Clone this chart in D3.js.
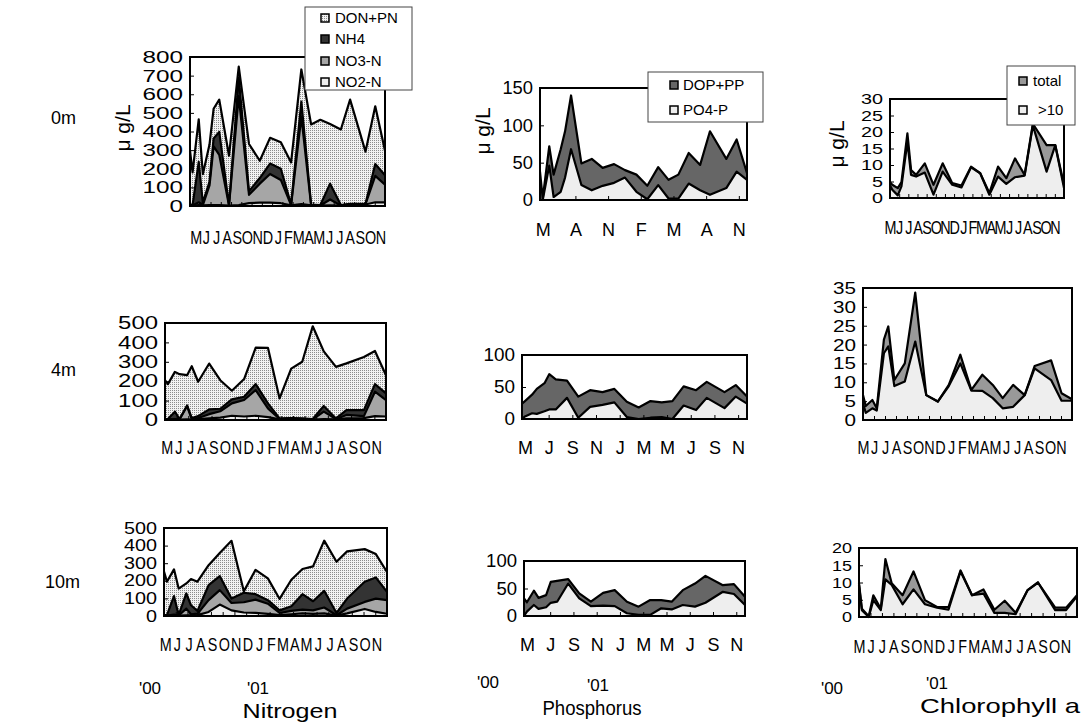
<!DOCTYPE html>
<html>
<head>
<meta charset="utf-8">
<script src="https://cdn.jsdelivr.net/npm/d3@7"></script>
<style>
    body { margin: 0; background: #fff; }
    svg { display: block; }
</style>
</head>
<body>
<script>
'use strict';

// sampling dates, in months after the start of May 2000
var sampleMonths = [0, 0.25, 0.85, 1.25, 1.9, 2.3, 2.85, 3.8, 4.75, 5.75, 6.8, 7.8, 8.85, 9.85, 10.85, 11.8, 12.7, 13.65, 14.7, 15.6, 17.1, 18.05, 19];
var monthLetters = ['M', 'J', 'J', 'A', 'S', 'O', 'N', 'D', 'J', 'F', 'M', 'A', 'M', 'J', 'J', 'A', 'S', 'O', 'N'];
var depthLabels = ['0m', '4m', '10m'];

var nitrogenKeys = ['NO2-N', 'NO3-N', 'NH4', 'DON+PN'];
var phosphorusKeys = ['PO4-P', 'DOP+PP'];
var chlorophyllKeys = ['total', '>10'];

// nitrogen, ug/L
var no2_0m = [3, 2, 5, 3, 5, 5, 5, 2, 5, 15, 18, 18, 15, 3, 10, 3, 2, 3, 2, 8, 8, 20, 20];
var no3_0m = [2, 1, 15, 2, 105, 315, 270, 1, 585, 45, 102, 154, 125, 2, 470, 2, 1, 32, 1, 2, 2, 142, 95];
var nh4_0m = [3, 2, 217, 13, 20, 42, 123, 2, 100, 20, 30, 56, 60, 3, 80, 3, 2, 85, 2, 2, 2, 63, 50];
var don_0m = [289, 175, 228, 153, 200, 160, 173, 265, 58, 253, 93, 138, 142, 226, 173, 430, 458, 320, 406, 559, 280, 310, 132];

var no2_4m = [2, 2, 2, 2, 3, 2, 5, 8, 12, 22, 18, 22, 15, 3, 5, 5, 2, 5, 3, 8, 10, 20, 18];
var no3_4m = [1, 1, 3, 1, 69, 3, 5, 22, 33, 64, 85, 132, 45, 2, 3, 1, 1, 38, 2, 18, 10, 126, 85];
var nh4_4m = [2, 2, 38, 2, 3, 5, 10, 25, 13, 20, 17, 31, 26, 3, 2, 2, 2, 29, 3, 25, 31, 39, 34];
var don_4m = [200, 180, 205, 231, 156, 267, 177, 236, 147, 45, 91, 188, 286, 103, 255, 292, 478, 282, 266, 241, 274, 171, 94];

var no2_10m = [2, 2, 3, 2, 3, 3, 5, 23, 65, 32, 20, 18, 12, 5, 10, 15, 12, 15, 2, 15, 40, 23, 13];
var no3_10m = [1, 1, 5, 1, 39, 7, 8, 67, 82, 42, 58, 75, 58, 12, 19, 21, 20, 33, 2, 27, 40, 76, 77];
var nh4_10m = [2, 2, 105, 2, 86, 51, 16, 85, 80, 25, 54, 31, 20, 15, 26, 88, 52, 95, 13, 57, 115, 120, 47];
var don_10m = [247, 190, 152, 151, 57, 149, 166, 114, 131, 328, 8, 138, 124, 65, 151, 143, 198, 285, 291, 268, 185, 133, 113];

// phosphorus, ug/L
var po4_0m = [0, 0, 46, 4, 11, 30, 68, 20, 13, 19, 23, 30, 11, 1, 20, 2, 2, 22, 13, 7, 16, 38, 27];
var dop_0m = [38, 2, 26, 30, 57, 62, 72, 29, 42, 24, 25, 10, 23, 18, 24, 25, 32, 41, 34, 85, 39, 43, 9];
var po4_4m = [0, 4, 9, 8, 12, 15, 15, 33, 2, 19, 22, 26, 3, 0, 2, 3, 0, 21, 14, 33, 17, 35, 24];
var dop_4m = [24, 24, 29, 39, 44, 55, 47, 27, 33, 26, 20, 21, 24, 18, 26, 23, 28, 30, 31, 25, 25, 18, 11];
var po4_10m = [0, 8, 20, 13, 16, 24, 26, 59, 32, 18, 19, 18, 5, 2, 2, 14, 12, 20, 17, 24, 44, 40, 20];
var dop_10m = [32, 17, 26, 20, 22, 38, 38, 8, 9, 8, 23, 29, 21, 15, 27, 15, 14, 27, 42, 49, 12, 18, 15];

// chlorophyll a, ug/L (total and the >10 um fraction, not stacked)
var chlTotal_0m = [4.9, 4.0, 3.0, 4.8, 19.6, 8.5, 7.0, 10.5, 4.0, 10.5, 4.5, 3.8, 9.5, 7.5, 1.5, 9.5, 6.0, 12.0, 7.0, 22.5, 16.0, 16.0, 4.0];
var chlLarge_0m = [3.9, 2.5, 0.8, 3.5, 17.0, 7.0, 6.5, 7.7, 1.0, 8.0, 4.0, 3.2, 9.3, 7.5, 1.0, 6.5, 4.3, 6.3, 6.8, 22.0, 8.0, 16.0, 3.0];
var chlTotal_4m = [6.6, 3.7, 5.3, 3.1, 21.3, 24.8, 10.6, 15, 33.8, 6.6, 4.9, 9.3, 17.3, 8, 12, 9.3, 5.8, 9.3, 6.6, 14.3, 15.8, 7.1, 5.5];
var chlLarge_4m = [4.4, 1.9, 3.1, 2.5, 17.7, 19.5, 9, 10.2, 20.8, 6.6, 4.9, 9, 15, 7.8, 7.7, 5.8, 3.1, 3.5, 6.6, 13.7, 10.6, 5.1, 5.1];
var chlTotal_10m = [9.8, 2.4, 0.2, 6.3, 2.4, 16.8, 9.8, 6.3, 13.2, 4.9, 2.9, 2.9, 13.5, 6.3, 8, 2.1, 4.7, 1.2, 7.8, 10, 2.7, 2.7, 6.3];
var chlLarge_10m = [9.3, 2, 0, 4.9, 2, 10.9, 9.3, 3.7, 8, 3.7, 2.7, 2.1, 13.2, 6.3, 6.8, 1.2, 1.2, 0.8, 7.8, 10, 2, 2, 6];

var FONT = '"Liberation Sans", Arial, sans-serif';

var fills = {
    'NO2-N': '#eeeeee', 'NO3-N': '#a6a6a6', 'NH4': '#333333', 'DON+PN': 'url(#dots)',
    'PO4-P': '#eeeeee', 'DOP+PP': '#666666',
    'total': '#999999', '>10': '#eeeeee'
};

var panels = [
    {kind: 'n', left: 190, right: 385, top: 57, bottom: 206, ymax: 800, step: 100, digitW: 13.5, tickFont: 17, labelShift: 0.55, labelPad: 25,
        values: [no2_0m, no3_0m, nh4_0m, don_0m]},
    {kind: 'p', left: 540, right: 747, top: 88, bottom: 200, ymax: 150, step: 50, digitW: 10.2, tickFont: 18, every: 3, labelPad: 23,
        values: [po4_0m, dop_0m]},
    {kind: 'c', left: 890, right: 1064, top: 99, bottom: 198, ymax: 30, step: 5, digitW: 11, tickFont: 15, labelShift: 0, labelPad: 23,
        values: [chlTotal_0m, chlLarge_0m]},
    {kind: 'n', left: 165, right: 386, top: 323, bottom: 420, ymax: 500, step: 100, digitW: 13.3, tickFont: 18, labelShift: 0.15, labelPad: 21,
        values: [no2_4m, no3_4m, nh4_4m, don_4m]},
    {kind: 'p', left: 522, right: 747, top: 355, bottom: 419, ymax: 100, step: 50, digitW: 10.5, tickFont: 18, every: 2, labelPad: 22,
        values: [po4_4m, dop_4m]},
    {kind: 'c', left: 863, right: 1072, top: 288, bottom: 420, ymax: 35, step: 5, digitW: 11.5, tickFont: 17, labelShift: 0, labelPad: 21,
        values: [chlTotal_4m, chlLarge_4m]},
    {kind: 'n', left: 164, right: 387, top: 528, bottom: 616, ymax: 500, step: 100, digitW: 11, tickFont: 16, labelShift: 0.1, labelPad: 22,
        values: [no2_10m, no3_10m, nh4_10m, don_10m]},
    {kind: 'p', left: 524, right: 745, top: 561, bottom: 616, ymax: 100, step: 50, digitW: 10.3, tickFont: 18, every: 2, labelPad: 22,
        values: [po4_10m, dop_10m]},
    {kind: 'c', left: 859, right: 1077, top: 548, bottom: 617, ymax: 20, step: 5, digitW: 10, tickFont: 15, labelShift: 0, labelPad: 23,
        values: [chlTotal_10m, chlLarge_10m]}
];

var svg = d3.select('body').append('svg')
    .attr('width', 1084)
    .attr('height', 726)
    .attr('font-family', FONT);

var pattern = svg.append('defs').append('pattern')
    .attr('id', 'dots')
    .attr('width', 2)
    .attr('height', 2)
    .attr('patternUnits', 'userSpaceOnUse');
pattern.append('rect').attr('width', 2).attr('height', 2).attr('fill', '#f2f2f2');
pattern.append('rect').attr('width', 1).attr('height', 1).attr('fill', '#8c8c8c');

function buildLayers(p) {
    var keys = p.kind === 'n' ? nitrogenKeys : (p.kind === 'p' ? phosphorusKeys : chlorophyllKeys);
    var rows = sampleMonths.map(function (m, i) {
        var row = {month: m};
        keys.forEach(function (k, j) {
            row[k] = p.values[j][i];
        });
        return row;
    });

    if (p.kind === 'c') {
        // overlaid, each series starts from zero
        return keys.map(function (k) {
            var layer = rows.map(function (r) {
                var pt = [0, r[k]];
                pt.data = r;
                return pt;
            });
            layer.key = k;
            return layer;
        });
    }
    return d3.stack().keys(keys)(rows);
}

function drawPanel(p) {
    var g = svg.append('g');

    var x = d3.scaleLinear().domain([0, 19]).range([p.left, p.right]);
    var y = d3.scaleLinear().domain([0, p.ymax]).range([p.bottom, p.top]);

    var layers = buildLayers(p);

    var area = d3.area()
        .x(function (d) { return x(d.data.month); })
        .y0(function (d) { return y(d[0]); })
        .y1(function (d) { return y(d[1]); });

    var line = d3.line()
        .x(function (d) { return x(d.data.month); })
        .y(function (d) { return y(d[1]); });

    g.selectAll('.area')
        .data(layers)
        .enter()
        .append('path')
        .attr('d', area)
        .attr('fill', function (d) { return fills[d.key]; });

    g.selectAll('.edge')
        .data(layers)
        .enter()
        .append('path')
        .attr('d', line)
        .attr('fill', 'none')
        .attr('stroke', '#000')
        .attr('stroke-width', 2.2)
        .attr('stroke-linejoin', 'round');

    // left axis, ticks pointing inwards
    var yAxis = g.append('g')
        .attr('transform', 'translate(' + p.left + ',0)')
        .call(d3.axisLeft(y)
            .tickValues(d3.range(0, p.ymax + 0.001, p.step))
            .tickSizeInner(-4)
            .tickSizeOuter(0)
            .tickPadding(7));
    yAxis.select('.domain').remove();
    yAxis.attr('font-size', p.tickFont).attr('font-family', FONT);
    yAxis.selectAll('.tick text')
        .attr('fill', '#000')
        .attr('textLength', function (d) { return String(d).length * p.digitW; })
        .attr('lengthAdjust', 'spacingAndGlyphs');

    // bottom tick marks and month letters
    var tickMonths, labelMonths, shift, squeeze;
    if (p.kind === 'p') {
        labelMonths = d3.range(0, 19, p.every);
        shift = 0.25;
        tickMonths = labelMonths.slice(1).map(function (m) { return m + shift; });
        squeeze = 1;
    } else {
        labelMonths = d3.range(0, 19);
        shift = p.labelShift;
        tickMonths = d3.range(1, 19);
        squeeze = 0.8;
    }

    var tickAxis = g.append('g')
        .attr('transform', 'translate(0,' + p.bottom + ')')
        .call(d3.axisBottom(x)
            .tickValues(tickMonths)
            .tickSizeInner(-4)
            .tickSizeOuter(0)
            .tickFormat(''));
    tickAxis.select('.domain').remove();

    var labelAxis = g.append('g')
        .attr('transform', 'translate(0,' + p.bottom + ')')
        .call(d3.axisBottom(x)
            .tickValues(labelMonths.map(function (m) { return m + shift; }))
            .tickSize(0)
            .tickPadding(p.labelPad)
            .tickFormat(function (d, i) { return monthLetters[labelMonths[i]]; }));
    labelAxis.select('.domain').remove();
    labelAxis.attr('font-size', 18).attr('font-family', FONT);
    labelAxis.selectAll('.tick text')
        .attr('fill', '#000')
        .attr('transform', 'scale(' + squeeze + ',1)');

    // plot frame
    g.append('rect')
        .attr('x', p.left)
        .attr('y', p.top)
        .attr('width', p.right - p.left)
        .attr('height', p.bottom - p.top)
        .attr('fill', 'none')
        .attr('stroke', '#000')
        .attr('stroke-width', 2);
}

panels.forEach(drawPanel);

// legends
function drawLegend(box, keys, rowsY, swatchX, textX) {
    var g = svg.append('g');
    g.append('rect')
        .attr('x', box[0]).attr('y', box[1])
        .attr('width', box[2]).attr('height', box[3])
        .attr('fill', '#fff')
        .attr('stroke', '#444')
        .attr('stroke-width', 1);

    var item = g.selectAll('.item')
        .data(keys)
        .enter()
        .append('g')
        .attr('transform', function (d, i) { return 'translate(0,' + rowsY[i] + ')'; });

    item.append('rect')
        .attr('x', swatchX)
        .attr('y', -4)
        .attr('width', 8)
        .attr('height', 8)
        .attr('fill', function (d) { return fills[d]; })
        .attr('stroke', '#000')
        .attr('stroke-width', 1.5);

    item.append('text')
        .attr('x', function (d, i) { return textX[i]; })
        .attr('y', 0)
        .attr('dy', '0.36em')
        .attr('font-size', 15)
        .text(function (d) { return d; });
}

drawLegend([305, 7, 107, 83], nitrogenKeys.slice().reverse(), [18, 39, 61, 82], 321, [335, 335, 335, 335]);
drawLegend([648, 72, 115, 50], phosphorusKeys.slice().reverse(), [85, 110], 670, [683, 683]);
drawLegend([1007, 66, 68, 59], chlorophyllKeys, [81, 110], 1019, [1033, 1038]);

// row labels
svg.selectAll('.depth')
    .data(depthLabels)
    .enter()
    .append('text')
    .attr('x', function (d) { return d === '10m' ? 45 : 51; })
    .attr('y', function (d, i) { return [118, 370, 582][i]; })
    .attr('dy', '0.35em')
    .attr('font-size', 18)
    .text(function (d) { return d; });

// y axis titles on the top row
[[123, 128], [483, 131], [837, 144]].forEach(function (pos) {
    svg.append('text')
        .attr('transform', 'translate(' + pos[0] + ',' + pos[1] + ') rotate(-90)')
        .attr('text-anchor', 'middle')
        .attr('dy', '0.35em')
        .attr('font-size', 21)
        .text('\u03bc g/L');
});

// years and element names under each column
var yearMarks = [
    {t: "'00", x: 150, y: 688}, {t: "'01", x: 258, y: 688},
    {t: "'00", x: 488, y: 682}, {t: "'01", x: 598, y: 685},
    {t: "'00", x: 832, y: 688}, {t: "'01", x: 937, y: 683}
];
svg.selectAll('.year')
    .data(yearMarks)
    .enter()
    .append('text')
    .attr('x', function (d) { return d.x; })
    .attr('y', function (d) { return d.y; })
    .attr('dy', '0.35em')
    .attr('text-anchor', 'middle')
    .attr('font-size', 17)
    .text(function (d) { return d.t; });

var titles = [
    {t: 'Nitrogen', x: 290, y: 711, w: 95},
    {t: 'Phosphorus', x: 592, y: 708, w: 99},
    {t: 'Chlorophyll a', x: 1000, y: 706, w: 160}
];
svg.selectAll('.title')
    .data(titles)
    .enter()
    .append('text')
    .attr('x', function (d) { return d.x; })
    .attr('y', function (d) { return d.y; })
    .attr('dy', '0.35em')
    .attr('text-anchor', 'middle')
    .attr('font-size', 21)
    .attr('textLength', function (d) { return d.w; })
    .attr('lengthAdjust', 'spacingAndGlyphs')
    .text(function (d) { return d.t; });
</script>
</body>
</html>
